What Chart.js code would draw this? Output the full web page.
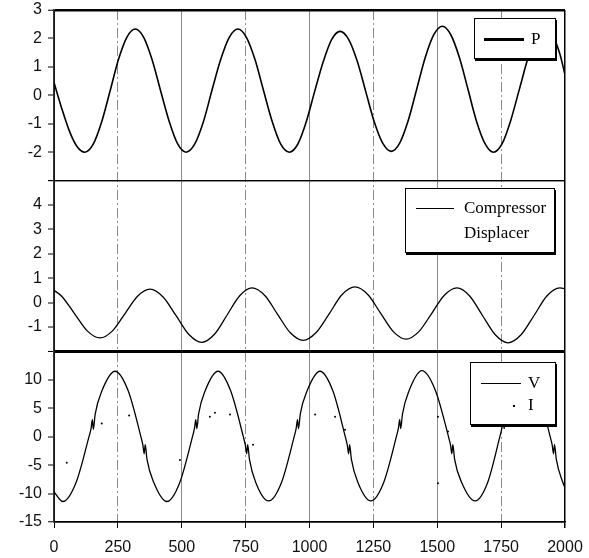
<!DOCTYPE html>
<html>
<head>
<meta charset="utf-8">
<script src="https://cdn.jsdelivr.net/npm/chart.js@4.4.0/dist/chart.umd.min.js"></script>
<style>
    body { margin: 0; background: #fff; }
    #wrap { position: relative; width: 589px; height: 558px; }
    .legend {
        position: absolute; box-sizing: border-box; background: #fff;
        border: 1px solid #000; box-shadow: 1px 2px 0 #000;
        font-family: "Liberation Serif", serif; font-size: 17px; color: #000;
    }
    .legend span { position: absolute; line-height: 20px; white-space: nowrap; }
    .legend i { position: absolute; background: #000; }
</style>
</head>
<body>
<div id="wrap">
    <canvas id="traces"></canvas>
    <div class="legend" style="left:474px;top:18px;width:82px;height:41px;">
        <i style="left:9px;top:19px;width:40px;height:2.5px;"></i>
        <span style="left:56px;top:10px;">P</span>
    </div>
    <div class="legend" style="left:405px;top:188px;width:150px;height:65px;">
        <i style="left:10px;top:19px;width:38px;height:1.2px;"></i>
        <span style="left:58px;top:9px;">Compressor</span>
        <span style="left:58px;top:34px;">Displacer</span>
    </div>
    <div class="legend" style="left:470px;top:362px;width:86px;height:63px;">
        <i style="left:10px;top:20px;width:40px;height:1.2px;"></i>
        <span style="left:57px;top:10px;">V</span>
        <i style="left:42px;top:42px;width:2px;height:2px;"></i>
        <span style="left:57px;top:32px;">I</span>
    </div>
</div>
<script>
// Pressure (top panel)
const pressureX = [0, 30, 60, 90, 121, 154, 187, 220, 252, 285, 318, 351, 384, 417, 451, 484, 517,
    551, 585, 618, 652, 686, 720, 753, 787, 820, 854, 887, 921, 954, 987, 1020, 1054, 1087, 1120,
    1153, 1187, 1220, 1253, 1287, 1320, 1353, 1387, 1420, 1453, 1487, 1520, 1553, 1587, 1620, 1653,
    1687, 1720, 1754, 1787, 1821, 1855, 1888, 1922, 1955, 1980, 2000];
const pressureY = [0.45, -0.45, -1.25, -1.8, -2.0, -1.71, -0.92, 0.17, 1.25, 2.04, 2.33, 2.04, 1.25,
    0.17, -0.92, -1.71, -2.0, -1.71, -0.92, 0.17, 1.25, 2.04, 2.33, 2.04, 1.25, 0.17, -0.92, -1.71,
    -2.0, -1.72, -0.94, 0.13, 1.19, 1.97, 2.25, 1.97, 1.2, 0.14, -0.92, -1.69, -1.97, -1.68, -0.87,
    0.23, 1.33, 2.14, 2.43, 2.13, 1.32, 0.22, -0.89, -1.7, -2.0, -1.7, -0.9, 0.2, 1.3, 2.1, 2.4,
    2.05, 1.45, 0.72];

// Compressor (middle panel)
const compressorX = [0, 30, 80, 130, 180, 229, 278, 327, 376, 427, 478, 528, 579, 628, 677, 726, 775,
    825, 875, 925, 975, 1026, 1077, 1127, 1178, 1228, 1278, 1328, 1378, 1428, 1478, 1527, 1577,
    1627, 1677, 1727, 1777, 1828, 1879, 1929, 1980, 2000];
const compressorY = [0.5, 0.26, -0.45, -1.16, -1.45, -1.16, -0.45, 0.26, 0.55, 0.23, -0.54, -1.31,
    -1.63, -1.3, -0.52, 0.27, 0.6, 0.29, -0.48, -1.24, -1.55, -1.23, -0.46, 0.32, 0.64, 0.33, -0.43,
    -1.19, -1.5, -1.19, -0.45, 0.29, 0.6, 0.27, -0.53, -1.32, -1.65, -1.32, -0.53, 0.27, 0.6, 0.57];

// Voltage (bottom panel)
const voltageX = [0, 35, 86, 137, 145, 150, 154, 161, 188, 239, 290, 340, 348, 353, 357, 364, 391, 442,
    492, 542, 550, 555, 559, 566, 592, 642, 691, 741, 749, 754, 758, 765, 790, 840,
    890, 940, 948, 953, 957, 964, 991, 1041, 1091, 1140, 1148, 1153, 1157, 1164, 1190, 1240,
    1290, 1340, 1348, 1353, 1357, 1364, 1390, 1440, 1492, 1544, 1552, 1557, 1561, 1568, 1596, 1648,
    1697, 1745, 1753, 1758, 1762, 1769, 1794, 1843, 1893, 1942, 1950, 1955, 1959, 1966, 1992, 2000];
const voltageY = [-9.7, -11.4, -8.1, 0, 1.4, 3.0, 1.3, 3.9, 8.1, 11.5, 8.1, 0, -1.5, -3.0, -1.4, -4.0, -8.1, -11.4,
    -8.1, 0, 1.5, 3.0, 1.4, 4.0, 8.1, 11.5, 8.1, 0, -1.5, -3.0, -1.4, -4.0, -8.1, -11.3,
    -8.1, 0, 1.5, 3.0, 1.4, 4.0, 8.1, 11.5, 8.1, 0, -1.5, -3.0, -1.4, -4.0, -8.1, -11.3,
    -8.1, 0, 1.5, 3.0, 1.4, 4.0, 8.1, 11.6, 8.2, 0, -1.5, -3.0, -1.4, -4.0, -8.1, -11.3,
    -8.1, 0, 1.5, 3.0, 1.4, 4.0, 8.1, 11.5, 8.1, 0, -1.5, -3.0, -1.4, -4.0, -8.1, -9.0];

// Current (sparse dots, bottom panel)
const currentX = [50, 187, 294, 493, 610, 630, 689, 779, 1022, 1100, 1139, 1503, 1503, 1542];
const currentY = [-4.6, 2.3, 3.7, -4.1, 3.5, 4.2, 3.9, -1.4, 3.9, 3.5, 1.2, 3.5, -8.2, 0.9];

const xTicks = [0, 250, 500, 750, 1000, 1250, 1500, 1750, 2000];

const toPoints = (xs, ys) => xs.map((x, i) => ({ x: x, y: ys[i] }));

const tickFont = { family: 'Liberation Sans', size: 16 };

// drop the label overhang padding so the plot area sits where the layout padding puts it
const noOverhang = (s) => {
    s.paddingTop = 0; s.paddingBottom = 0; s.paddingLeft = 0; s.paddingRight = 0;
};

// one stacked y axis per panel; hidden labels and boundary lines set per axis
const panelAxis = (min, max, step, hidden, topWidth, bottomWidth) => ({
    type: 'linear',
    position: 'left',
    stack: 'panels',
    stackWeight: 1,
    min: min,
    max: max,
    afterFit: (s) => { s.width = 54; noOverhang(s); },
    ticks: {
        stepSize: step,
        autoSkip: false,
        color: '#111',
        font: tickFont,
        padding: 6,
        callback: (v) => hidden.includes(v) ? '' : String(v)
    },
    grid: {
        color: (ctx) => (ctx.tick && (ctx.tick.value === min || ctx.tick.value === max)) ? '#000' : 'rgba(0,0,0,0)',
        lineWidth: (ctx) => !ctx.tick ? 0 : ctx.tick.value === max ? topWidth : ctx.tick.value === min ? bottomWidth : 0,
        tickColor: '#000',
        tickWidth: 1,
        tickLength: 6
    },
    border: { color: '#333', width: 1.5 }
});

const chart = new Chart(document.getElementById('traces').getContext('2d'), {
    type: 'line',
    data: {
        datasets: [
            { label: 'P', data: toPoints(pressureX, pressureY), yAxisID: 'yP',
              borderColor: '#000', borderWidth: 1.6, pointRadius: 0, cubicInterpolationMode: 'monotone' },
            { label: 'Compressor', data: toPoints(compressorX, compressorY), yAxisID: 'yC',
              borderColor: '#000', borderWidth: 1.3, pointRadius: 0, cubicInterpolationMode: 'monotone' },
            { label: 'V', data: toPoints(voltageX, voltageY), yAxisID: 'yV',
              borderColor: '#000', borderWidth: 1.3, pointRadius: 0, cubicInterpolationMode: 'monotone' },
            { label: 'I', data: toPoints(currentX, currentY), yAxisID: 'yV', showLine: false,
              pointRadius: 1, pointBackgroundColor: '#000', pointBorderWidth: 0 }
        ]
    },
    options: {
        responsive: true,
        maintainAspectRatio: false,
        animation: false,
        layout: { padding: { top: 10, right: 24, left: 0, bottom: 0 } },
        plugins: { legend: { display: false }, tooltip: { enabled: false } },
        scales: {
            x: {
                type: 'linear',
                min: 0,
                max: 2000,
                afterFit: (s) => { s.height = 36; noOverhang(s); },
                afterBuildTicks: (s) => { s.ticks = xTicks.map(v => ({ value: v })); },
                ticks: { color: '#111', font: tickFont, padding: 10, maxRotation: 0, autoSkip: false,
                    callback: (v) => String(v) },
                grid: {
                    color: (ctx) => (ctx.tick && (ctx.tick.value === 0 || ctx.tick.value === 2000)) ? '#000' : '#8a8a8a',
                    lineWidth: (ctx) => (ctx.tick && ctx.tick.value === 2000) ? 1.5 : 1,
                    tickColor: '#000',
                    tickLength: 6
                },
                border: {
                    color: '#000', width: 1.5,
                    dash: (ctx) => (ctx.tick && [250, 750, 1250, 1750].includes(ctx.tick.value)) ? [10, 3, 2, 3] : []
                }
            },
            yV: panelAxis(-15, 15, 5, [15], 3, 1.5),
            yC: panelAxis(-2, 5, 1, [-2, 5], 1.2, 3),
            yP: panelAxis(-3, 3, 1, [-3], 2.5, 1.2)
        }
    }
});
</script>
</body>
</html>
